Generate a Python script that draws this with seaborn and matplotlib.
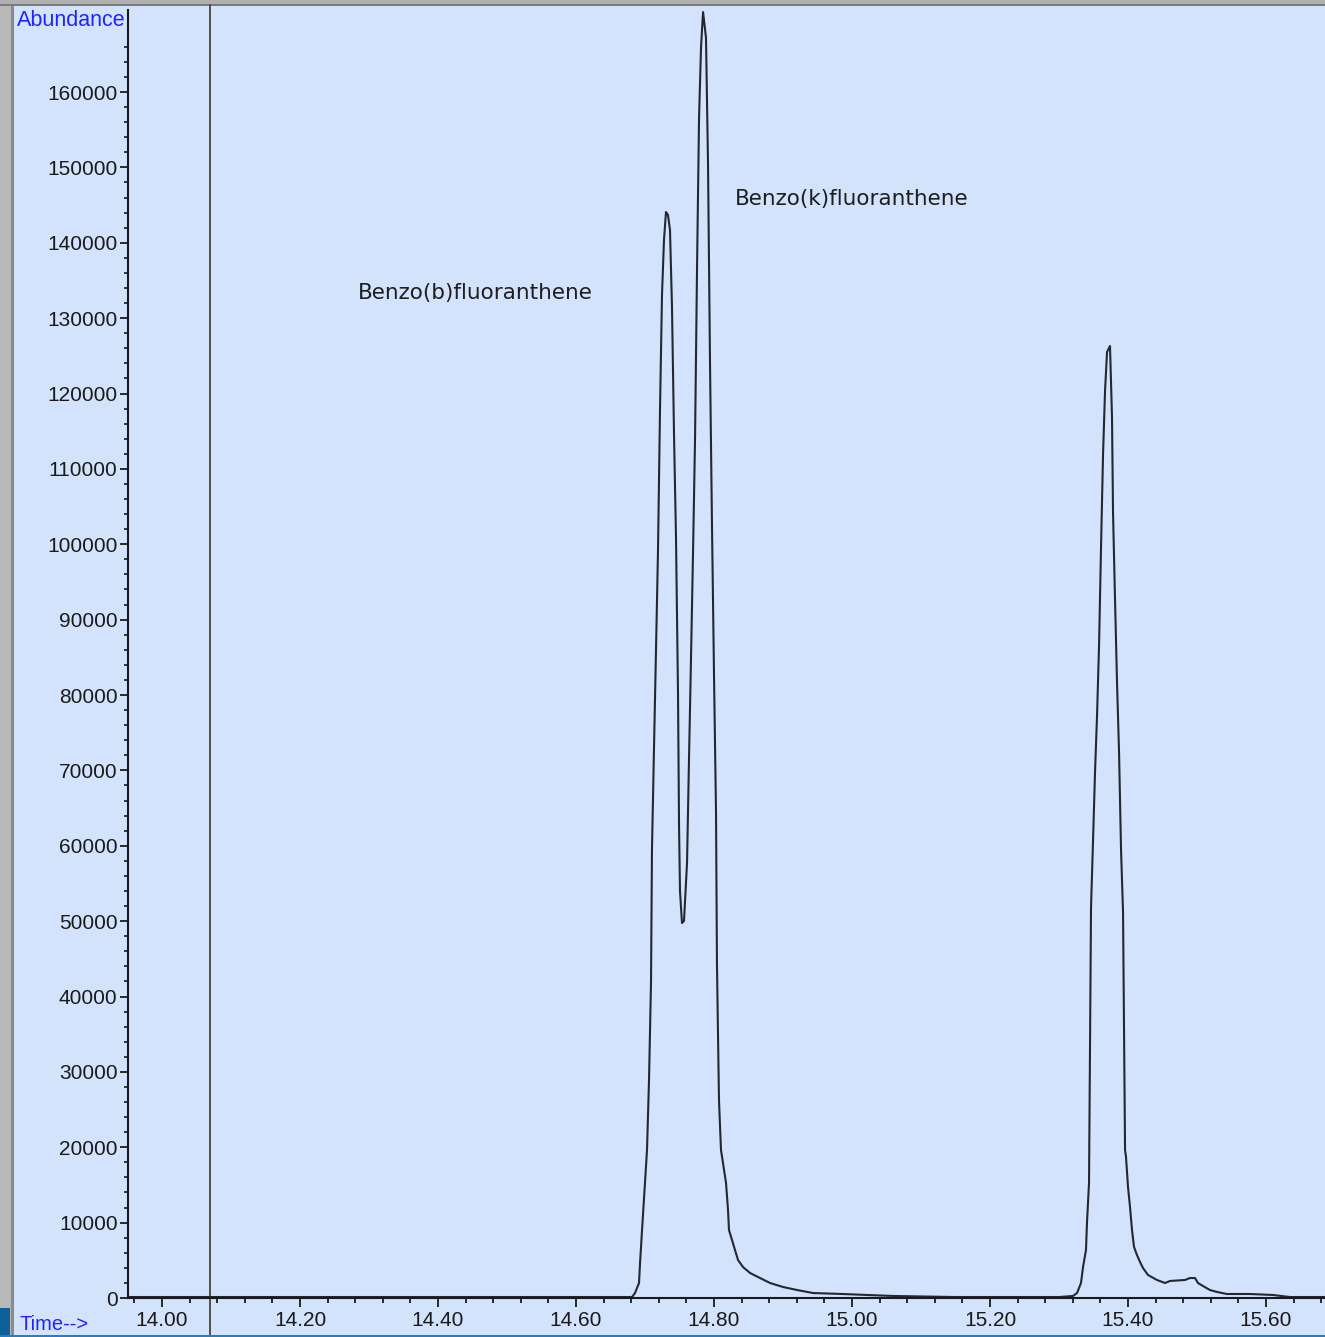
import numpy as np
import pandas as pd
import matplotlib
matplotlib.use("Agg")
import matplotlib.pyplot as plt
import seaborn as sns
from matplotlib.ticker import MultipleLocator, FixedLocator, FuncFormatter
from matplotlib.patches import Rectangle

# ---------------- data ----------------
time_min = [
    13.9507, 14.0500, 14.3000, 14.5500, 14.6812, 14.6855, 14.6913, 14.6928,
    14.6957, 14.6986, 14.7029, 14.7058, 14.7087, 14.7101, 14.7130, 14.7159,
    14.7188, 14.7217, 14.7246, 14.7275, 14.7304, 14.7333, 14.7362, 14.7391,
    14.7420, 14.7449, 14.7478, 14.7493, 14.7507, 14.7536, 14.7565, 14.7609,
    14.7638, 14.7667, 14.7696, 14.7725, 14.7754, 14.7783, 14.7812, 14.7841,
    14.7855, 14.7884, 14.7913, 14.7942, 14.7971, 14.8000, 14.8029, 14.8043,
    14.8072, 14.8101, 14.8130, 14.8174, 14.8203, 14.8217, 14.8261, 14.8304,
    14.8348, 14.8420, 14.8522, 14.8667, 14.8812, 14.9000, 14.9203, 14.9435,
    14.9870, 15.0217, 15.0594, 15.1500, 15.3000,
    15.3203, 15.3261, 15.3319, 15.3348, 15.3391, 15.3406, 15.3435, 15.3464,
    15.3493, 15.3522, 15.3551, 15.3580, 15.3609, 15.3638, 15.3667, 15.3696,
    15.3739, 15.3768, 15.3783, 15.3812, 15.3841, 15.3870, 15.3899, 15.3928,
    15.3957, 15.3971, 15.4000, 15.4029, 15.4058, 15.4087, 15.4130, 15.4174,
    15.4217, 15.4290, 15.4420, 15.4536, 15.4609, 15.4826, 15.4899, 15.4971,
    15.5014, 15.5087, 15.5188, 15.5290, 15.5435, 15.5768, 15.6101, 15.6348,
    15.6855,
]
abundance = [
    130, 130, 130, 130, 130, 660, 1990, 4640,
    9020, 13270, 19640, 28920, 41920, 59570, 72840, 85840,
    98970, 117680, 133070, 140360, 144080, 143680, 141690, 131480,
    114760, 100960, 80400, 62750, 54000, 49750, 50020, 57710,
    71770, 85040, 98970, 113960, 136650, 156550, 165970, 170610,
    169550, 167160, 150580, 124050, 102290, 82650, 64480, 44180,
    26270, 19640, 17910, 15260, 11670, 9020, 7690, 6370,
    5040, 4110, 3320, 2650, 1990, 1460, 1060, 660,
    530, 400, 270, 130, 130,
    270, 660, 1990, 4110, 6370, 10080, 15260, 51870,
    60630, 69780, 77210, 86500, 99640, 111840, 120330, 125510,
    126300, 116880, 104150, 92600, 81590, 72440, 59440, 51210,
    19640, 18710, 14730, 12070, 9020, 6770, 5700, 4780,
    3980, 3050, 2390, 1990, 2260, 2390, 2650, 2650,
    1990, 1590, 1060, 800, 530, 530, 400, 130,
    130,
]

peak_labels = ["Benzo(b)fluoranthene", "Benzo(k)fluoranthene"]
peak_label_time = [14.2841, 14.8304]
peak_label_abund = [133330, 145800]

marker_time = 14.0696
x_limits = (13.9507, 15.6855)
y_limits = (0, 170880)

df = pd.DataFrame({"time": time_min, "abundance": abundance})

# ---------------- styling ----------------
sns.set_theme(style="white")
plt.rcParams["font.family"] = ["Liberation Sans", "DejaVu Sans"]

BG = "#D3E3FC"
W, H = 1325, 1337
fig = plt.figure(figsize=(W / 100, H / 100), dpi=100, facecolor=BG)
ax = fig.add_axes([128 / W, 39 / H, 1197 / W, 1288 / H])
ax.set_facecolor(BG)

sns.lineplot(data=df, x="time", y="abundance", ax=ax, color="#23272f",
             linewidth=1.5, estimator=None, sort=False, legend=False)

ax.set_xlim(*x_limits)
ax.set_ylim(*y_limits)
ax.set_xlabel("")
ax.set_ylabel("")

for s in ["top", "right"]:
    ax.spines[s].set_visible(False)
for s in ["left", "bottom"]:
    ax.spines[s].set_color("#1a1a1a")
    ax.spines[s].set_linewidth(1.5)

ax.xaxis.set_major_locator(MultipleLocator(0.2))
ax.xaxis.set_minor_locator(MultipleLocator(0.04))
ax.xaxis.set_major_formatter(FuncFormatter(lambda v, p: f"{v:.2f}"))
ax.yaxis.set_major_locator(FixedLocator(np.arange(0, 160001, 10000)))
ax.yaxis.set_minor_locator(FixedLocator(np.arange(0, 166001, 2000)))
ax.yaxis.set_major_formatter(FuncFormatter(lambda v, p: f"{int(v)}"))

ax.tick_params(axis="x", which="major", direction="out", length=6.5, width=1.3,
               colors="#1a1a1a", labelsize=15, pad=3, bottom=True)
ax.tick_params(axis="x", which="minor", direction="out", length=3.5, width=1.3,
               colors="#1a1a1a", bottom=True)
ax.tick_params(axis="y", which="major", direction="out", length=6, width=1.3,
               colors="#1a1a1a", labelsize=15, pad=1.5, left=True)
ax.tick_params(axis="y", which="minor", direction="out", length=3, width=1.2,
               colors="#1a1a1a", left=True)

# marker line at retention-time cursor
ax.plot([marker_time, marker_time], [-39 / 1288, 1.004],
        transform=ax.get_xaxis_transform(), color="#4a4236", lw=1.3,
        clip_on=False, zorder=1)

# peak annotations
for lbl, tx, ty in zip(peak_labels, peak_label_time, peak_label_abund):
    ax.text(tx, ty, lbl, ha="left", va="center", fontsize=15.5,
            family=["DejaVu Sans"], color="#1e1e1e")

# axis captions
fig.text(17 / W, 1 - 21 / H, "Abundance", ha="left", va="center",
         fontsize=15.5, color="#2222ff")
fig.text(19 / W, 1 - 1324 / H, "Time-->", ha="left", va="center",
         fontsize=14.5, color="#2222ff")

# window frame decorations
fig.add_artist(Rectangle((0, 0), 12 / W, 1, transform=fig.transFigure,
                         facecolor="#b9b9b9", edgecolor="none", zorder=0))
fig.add_artist(Rectangle((11 / W, 0), 3 / W, 1, transform=fig.transFigure,
                         facecolor="#8a8a8a", edgecolor="none", zorder=0))
fig.add_artist(Rectangle((0, 1 - 5 / H), 1, 5 / H, transform=fig.transFigure,
                         facecolor="#b0b0b0", edgecolor="none", zorder=0))
fig.add_artist(Rectangle((0, 1 - 6 / H), 1, 2 / H, transform=fig.transFigure,
                         facecolor="#7c7c7c", edgecolor="none", zorder=0))
fig.add_artist(Rectangle((0, 0), 10 / W, 29 / H, transform=fig.transFigure,
                         facecolor="#0f5f9a", edgecolor="none", zorder=2))
fig.add_artist(Rectangle((0, 0), 1, 2 / H, transform=fig.transFigure,
                         facecolor="#1f80c8", edgecolor="none", zorder=2))

fig.savefig("out.png", dpi=100, facecolor=BG)
